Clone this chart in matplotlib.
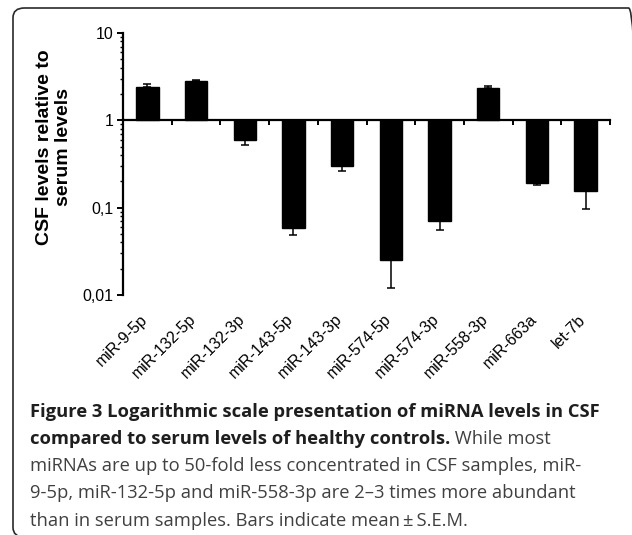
import numpy as np
import matplotlib
matplotlib.use("Agg")
import matplotlib.pyplot as plt
from matplotlib.patches import FancyBboxPatch
from matplotlib.ticker import LogLocator, NullFormatter

categories = ["miR-9-5p", "miR-132-5p", "miR-132-3p", "miR-143-5p", "miR-143-3p",
              "miR-574-5p", "miR-574-3p", "miR-558-3p", "miR-663a", "let-7b"]
values = [2.42, 2.84, 0.60, 0.059, 0.30, 0.025, 0.071, 2.36, 0.19, 0.155]
sem = [0.18, 0.08, 0.08, 0.010, 0.035, 0.013, 0.015, 0.09, 0.01, 0.058]
ytick_vals = [0.01, 0.1, 1, 10]
ytick_labels = ["0,01", "0,1", "1", "10"]
ylabel = "CSF levels relative to\nserum levels"

tick_font = ["Liberation Sans", "DejaVu Sans"]
tick_size = 11.5

W, H = 632, 535
fig = plt.figure(figsize=(W / 100, H / 100), dpi=100)

frame = FancyBboxPatch((13 / W, 1 - 537 / H), (640 - 13) / W, (537 - 8) / H,
                       boxstyle="round,pad=0,rounding_size=0.018",
                       transform=fig.transFigure, fill=False, ec="#2a2a2a", lw=1.2,
                       clip_on=False)
fig.patches.append(frame)

ax = fig.add_axes([123 / W, 1 - 295 / H, (610 - 123) / W, (295 - 33) / H])
x = np.arange(len(categories))
v = np.array(values)
s = np.array(sem)
ax.set_yscale("log")
ax.bar(x, v - 1, bottom=1, width=0.46, color="black", edgecolor="black", zorder=2)
lower = np.where(v < 1, s, 0)
upper = np.where(v >= 1, s, 0)
ax.errorbar(x, v, yerr=[lower, upper], fmt="none", ecolor="black", elinewidth=1.1,
            capsize=3, capthick=1.1, zorder=1)

ax.set_xlim(-0.5, len(categories) - 0.5)
ax.set_ylim(0.01, 10)
for sp in ["top", "right"]:
    ax.spines[sp].set_visible(False)
ax.spines["left"].set_linewidth(1.6)
ax.spines["bottom"].set_position(("data", 1))
ax.spines["bottom"].set_linewidth(1.6)
ax.set_xticks(x + 0.5)
ax.set_xticklabels([])
ax.tick_params(axis="x", direction="out", length=3.5, width=1.4)

ax.set_yticks(ytick_vals)
ax.set_yticklabels(ytick_labels, fontfamily=tick_font, fontsize=tick_size)
ax.yaxis.set_minor_locator(LogLocator(base=10, subs=np.arange(2, 10)))
ax.yaxis.set_minor_formatter(NullFormatter())
ax.tick_params(axis="y", which="major", direction="out", length=4, width=1.4, pad=3)
ax.tick_params(axis="y", which="minor", direction="out", length=2.2, width=1.0)

for i, lab in enumerate(categories):
    ax.annotate(lab, xy=(i, 0.01), xycoords="data", xytext=(2, -12), textcoords="offset points",
                rotation=45, ha="right", va="top", fontsize=tick_size, fontfamily=tick_font)

fig.text(54 / W, 1 - 147 / H, ylabel, rotation=90, ha="center", va="center",
         fontsize=14, fontweight="bold", fontfamily=["Liberation Sans", "DejaVu Sans"],
         linespacing=1.15, multialignment="center")

cap_font = ["Open Sans", "DejaVu Sans"]
cap_size = 13.2
bold_col = "#1e1e1e"
reg_col = "#404040"
x0 = 30 / W
fig.text(x0, 1 - 417 / H, "Figure 3 Logarithmic scale presentation of miRNA levels in CSF",
         fontsize=cap_size, fontweight="bold", fontfamily=cap_font, color=bold_col, va="baseline")
t2 = fig.text(x0, 1 - 444 / H, "compared to serum levels of healthy controls.",
              fontsize=cap_size, fontweight="bold", fontfamily=cap_font, color=bold_col, va="baseline")
ax.annotate(" While most", xy=(1, 0), xycoords=t2, xytext=(0, 0), textcoords="offset points",
            fontsize=cap_size, fontfamily=cap_font, color=reg_col, va="bottom", ha="left",
            annotation_clip=False)
lines = ["miRNAs are up to 50-fold less concentrated in CSF samples, miR-",
         "9-5p, miR-132-5p and miR-558-3p are 2\u20133 times more abundant",
         "than in serum samples. Bars indicate mean\u2009\u00b1\u2009S.E.M."]
for k, ln in enumerate(lines):
    fig.text(x0, 1 - (471 + 27.3 * k) / H, ln, fontsize=cap_size, fontfamily=cap_font,
             color=reg_col, va="baseline")

fig.savefig("out.png", dpi=100)
